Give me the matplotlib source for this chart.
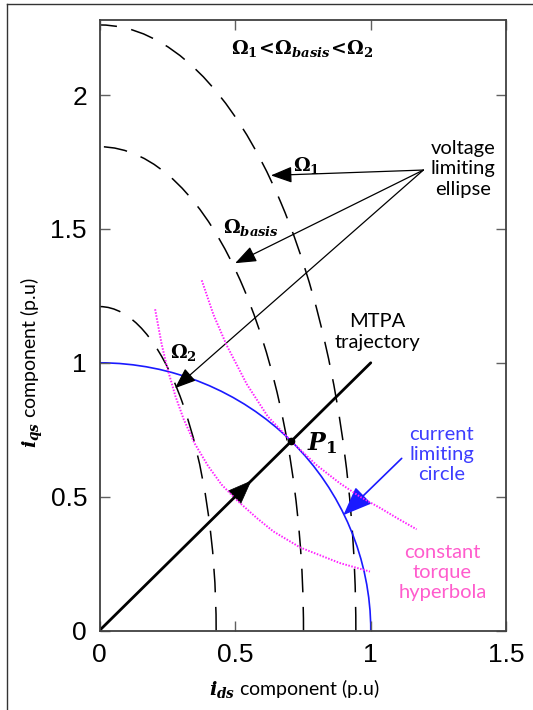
import matplotlib
matplotlib.use('Agg')
import matplotlib.pyplot as plt
from matplotlib.patches import Arc, FancyArrowPatch
from matplotlib.lines import Line2D

plt.rcParams['lines.scale_dashes'] = False
plt.rcParams['font.family'] = ['Liberation Sans', 'DejaVu Sans']
plt.rcParams['mathtext.fontset'] = 'custom'
plt.rcParams['mathtext.rm'] = 'DejaVu Serif:bold'
plt.rcParams['mathtext.it'] = 'DejaVu Serif:italic:bold'
plt.rcParams['mathtext.bf'] = 'DejaVu Serif:bold'

# ---------------- data ----------------
ellipse_names = [r'$\Omega_1$', r'$\Omega_{basis}$', r'$\Omega_2$']
ellipse_semi_x = [0.945, 0.752, 0.43]   # i_ds intercepts
ellipse_semi_y = [2.262, 1.807, 1.21]   # i_qs intercepts
current_limit_radius = 1.0
mtpa_x = [0.0, 1.0]
mtpa_y = [0.0, 1.0]
p1_x, p1_y = 0.707, 0.707
torque1_x = [0.377, 0.420, 0.469, 0.543, 0.620, 0.707, 0.800, 0.886, 0.960, 1.034, 1.100, 1.169]
torque1_y = [1.308, 1.180, 1.065, 0.920, 0.800, 0.707, 0.618, 0.550, 0.500, 0.458, 0.418, 0.378]
torque2_x = [0.205, 0.229, 0.250, 0.280, 0.310, 0.350, 0.400, 0.450, 0.506, 0.580, 0.641, 0.740, 0.886, 0.997]
torque2_y = [1.200, 1.070, 0.980, 0.875, 0.790, 0.700, 0.615, 0.545, 0.487, 0.420, 0.370, 0.310, 0.252, 0.220]
xticks = [0, 0.5, 1, 1.5]
xtick_labels = ['0', '0.5', '1', '1.5']
yticks = [0, 0.5, 1, 1.5, 2]
ytick_labels = ['0', '0.5', '1', '1.5', '2']

W, H = 533, 710
fig = plt.figure(figsize=(W / 100, H / 100), dpi=100)
ax = fig.add_axes([99.5 / W, 1 - 630.5 / H, (506.4 - 99.5) / W, (630.5 - 20.4) / H])
ax.set_xlim(0, 1.5)
ax.set_ylim(0, 2.279)

# voltage limiting ellipses (dashed)
for a, b in zip(ellipse_semi_x, ellipse_semi_y):
    ax.add_patch(Arc((0, 0), 2 * a, 2 * b, theta1=0, theta2=90, color='black',
                     lw=1.1, linestyle=(0, (17, 10.5))))

# current limiting circle
ax.add_patch(Arc((0, 0), 2 * current_limit_radius, 2 * current_limit_radius,
                 theta1=0, theta2=90, color='#1a1aff', lw=1.2))

# constant torque hyperbolas
dot = (0, (1.1, 1.1))
ax.plot(torque1_x, torque1_y, color='#ff22ff', lw=1.4, linestyle=dot)
ax.plot(torque2_x, torque2_y, color='#ff22ff', lw=1.4, linestyle=dot)

# MTPA trajectory
ax.plot(mtpa_x, mtpa_y, color='black', lw=2.0, solid_capstyle='round')
ax.add_patch(FancyArrowPatch((0.49, 0.49), (0.56, 0.56),
                             arrowstyle='-|>,head_length=0.9,head_width=0.35',
                             mutation_scale=18, color='black', lw=0.5,
                             shrinkA=0, shrinkB=0))
ax.plot([p1_x], [p1_y], 'o', color='black', markersize=4.5)
ax.text(0.765, 0.70, r'$P_1$', fontsize=17, ha='left', va='center')

# voltage limiting ellipse annotations
src = (1.194, 1.720)
tips = [(0.632, 1.700), (0.500, 1.372), (0.278, 0.905)]
for t in tips:
    ax.add_patch(FancyArrowPatch(src, t,
                                 arrowstyle='-|>,head_length=0.65,head_width=0.25',
                                 mutation_scale=20, color='black', lw=0.9,
                                 shrinkA=0, shrinkB=0))
txt_kw = dict(fontfamily='Lato', fontsize=14.5, ha='center', va='center', linespacing=1.22)
ax.text(1.341, 1.724, 'voltage\nlimiting\nellipse', color='black', **txt_kw)

ax.text(0.761, 1.737, ellipse_names[0], fontsize=13.5, ha='center', va='center')
ax.text(0.560, 1.505, ellipse_names[1], fontsize=13.5, ha='center', va='center')
ax.text(0.311, 1.038, ellipse_names[2], fontsize=13.5, ha='center', va='center')
ax.text(0.748, 2.174, r'$\Omega_1\!<\!\Omega_{basis}\!<\!\Omega_2$', fontsize=13.5,
        ha='center', va='center')

ax.text(1.025, 1.115, 'MTPA\ntrajectory', color='black', **txt_kw)

# current limiting circle annotation
ax.add_patch(FancyArrowPatch((1.114, 0.643), (0.899, 0.431),
                             arrowstyle='-|>,head_length=1.0,head_width=0.4',
                             mutation_scale=18, color='#1a1aff', lw=1.2,
                             shrinkA=0, shrinkB=0))
ax.text(1.262, 0.656, 'current\nlimiting\ncircle', color='#3d3dff', **txt_kw)

ax.text(1.264, 0.218, 'constant\ntorque\nhyperbola', color='#ff5ccd', **txt_kw)

# axes styling
ax.set_xticks(xticks)
ax.set_xticklabels(xtick_labels)
ax.set_yticks(yticks)
ax.set_yticklabels(ytick_labels)
ax.tick_params(direction='in', top=True, right=True, length=7, width=1.0,
               color='#606060', labelsize=19, pad=9)
for s in ax.spines.values():
    s.set_linewidth(1.3)
    s.set_color('#404040')

fig.text(294 / W, 1 - 689 / H, r'$i_{ds}$ component (p.u)', fontfamily='Lato',
         fontsize=14, ha='center', va='center')
fig.text(32 / W, 1 - 363 / H, r'$i_{qs}$ component (p.u)', fontfamily='Lato',
         fontsize=14, ha='center', va='center', rotation=90)

# figure frame (top and left border)
fig.add_artist(Line2D([7 / W, 1.0], [1 - 4 / H, 1 - 4 / H], transform=fig.transFigure,
                      color='#333333', lw=1.0))
fig.add_artist(Line2D([7 / W, 7 / W], [0.0, 1 - 4 / H], transform=fig.transFigure,
                      color='#333333', lw=1.0))

fig.savefig('out.png', dpi=100)
